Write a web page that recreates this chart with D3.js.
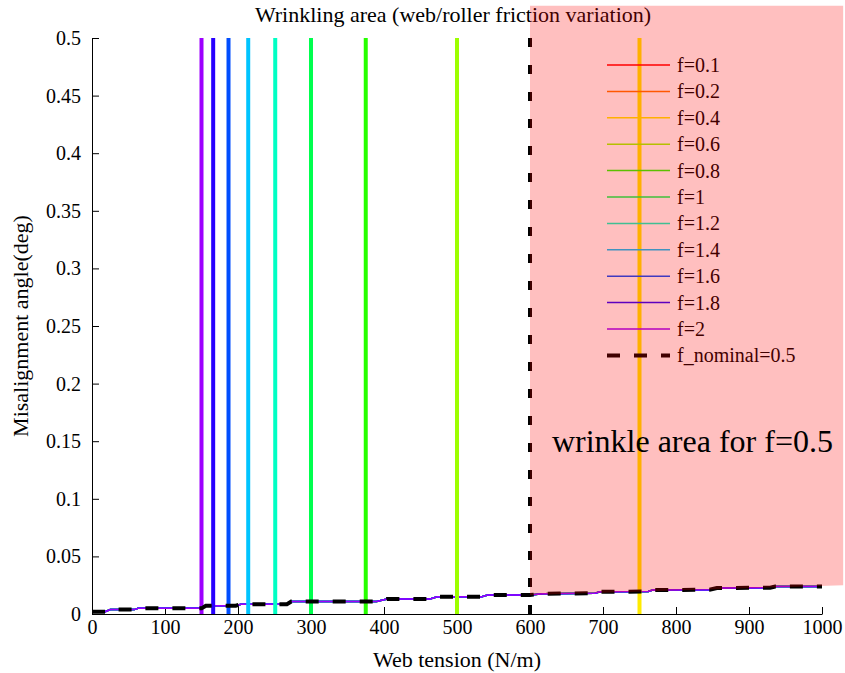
<!DOCTYPE html>
<html>
<head>
<meta charset="utf-8">
<title>Wrinkling area</title>
<style>
    body { margin: 0; background: #fff; }
    svg { display: block; font-family: "Liberation Serif", "Times New Roman", serif; }
    .axis path, .axis line { stroke: #000; stroke-width: 1px; }
</style>
<script src="https://d3js.org/d3.v7.min.js"></script>
</head>
<body>
<div id="chart"></div>
<script>
// friction cases (legend order)
const frictions = ['0.1', '0.2', '0.4', '0.6', '0.8', '1', '1.2', '1.4', '1.6', '1.8', '2'];
// wrinkling limit tension for each friction (off-chart for the two smallest)
const limitTension = [null, null, 750, 500, 375, 300, 251, 214, 187, 166, 150];
const nominalLimit = 600;

// misalignment curve (same for every friction case)
const curveTension = [0, 18, 25, 58, 63, 150, 156, 197, 204, 267, 273, 390, 404, 463, 473, 534, 542, 600, 618, 689, 696, 762, 768, 846, 856, 929, 936, 1000];
const curveAngle = [0.002, 0.002, 0.0038, 0.0038, 0.0049, 0.0049, 0.0072, 0.0072, 0.0085, 0.0085, 0.0108, 0.0108, 0.013, 0.013, 0.015, 0.015, 0.0165, 0.0165, 0.0176, 0.018, 0.0193, 0.0195, 0.0208, 0.021, 0.0226, 0.0228, 0.0238, 0.0238];

// wrinkle zone patch for f=0.5
const zoneTension = [600, 600, 1029, 1029];
const zoneAngle = [0.0165, 0.528, 0.528, 0.025];

const xTicks = [0, 100, 200, 300, 400, 500, 600, 700, 800, 900, 1000];
const yTicks = [0, 0.05, 0.1, 0.15, 0.2, 0.25, 0.3, 0.35, 0.4, 0.45, 0.5];

const width = 845, height = 673;
const margin = { top: 38, right: 23, bottom: 59, left: 92 };
const serif = '"Liberation Serif", "Times New Roman", serif';

const x = d3.scaleLinear().domain([0, 1000]).range([margin.left, width - margin.right]);
const y = d3.scaleLinear().domain([0, 0.5]).range([height - margin.bottom, margin.top]);

// hsv-like colour map, 13 steps, first 11 used
const color = i => d3.hsl(i * 360 / 13, 1, 0.5).formatHex();

const svg = d3.select('#chart').append('svg')
    .attr('width', width)
    .attr('height', height);

const xAxis = svg.append('g')
    .attr('class', 'axis')
    .attr('transform', `translate(0,${y(0)})`)
    .call(d3.axisBottom(x).tickValues(xTicks).tickSizeInner(-7).tickSizeOuter(0).tickPadding(6)
        .tickFormat(d3.format('d')));

const yAxis = svg.append('g')
    .attr('class', 'axis')
    .attr('transform', `translate(${x(0)},0)`)
    .call(d3.axisLeft(y).tickValues(yTicks).tickSizeInner(-7).tickSizeOuter(0).tickPadding(11)
        .tickFormat(d => String(+d.toFixed(2))));

[xAxis, yAxis].forEach(g => {
    g.attr('font-family', serif).attr('font-size', 20);
    g.selectAll('text').attr('fill', '#000');
});

const curvePts = curveTension.map((t, i) => [t, curveAngle[i]]);
const line = d3.line().x(d => x(d[0])).y(d => y(d[1]));

// thin curves, one per friction
svg.append('g').selectAll('path')
    .data(frictions)
    .join('path')
    .attr('d', line(curvePts))
    .attr('fill', 'none')
    .attr('stroke', (_, i) => color(i))
    .attr('stroke-width', 1.5);

// wrinkling limits
svg.append('g').selectAll('line')
    .data(limitTension.map((t, i) => ({ t, i })).filter(d => d.t !== null))
    .join('line')
    .attr('x1', d => x(d.t)).attr('x2', d => x(d.t))
    .attr('y1', y(0)).attr('y2', y(0.5))
    .attr('stroke', d => color(d.i))
    .attr('stroke-width', 4);

// nominal friction
svg.append('path')
    .attr('d', line(curvePts))
    .attr('fill', 'none')
    .attr('stroke', '#000')
    .attr('stroke-width', 4)
    .attr('stroke-dasharray', '13,14');

svg.append('line')
    .attr('x1', x(nominalLimit)).attr('x2', x(nominalLimit))
    .attr('y1', y(0)).attr('y2', y(0.5))
    .attr('stroke', '#000')
    .attr('stroke-width', 4)
    .attr('stroke-dasharray', '9,18');

// legend
const legend = svg.append('g').attr('transform', 'translate(607,65)');
const legendItems = frictions.map((f, i) => ({ label: 'f=' + f, col: color(i), w: 1.5, dash: null }))
    .concat([{ label: 'f_nominal=0.5', col: '#000', w: 4, dash: '13,14' }]);
const row = legend.selectAll('g')
    .data(legendItems)
    .join('g')
    .attr('transform', (_, i) => `translate(0,${i * 26.4})`);
row.append('line')
    .attr('x1', 0).attr('x2', 63)
    .attr('stroke', d => d.col)
    .attr('stroke-width', d => d.w)
    .attr('stroke-dasharray', d => d.dash);
row.append('text')
    .attr('x', 70)
    .attr('dy', '0.35em')
    .style('font-size', '20px')
    .text(d => d.label);

// title and axis labels
svg.append('text')
    .attr('x', (x(0) + x(1000)) / 2 - 4)
    .attr('y', 22)
    .attr('text-anchor', 'middle')
    .style('font-size', '22px')
    .text('Wrinkling area (web/roller friction variation)');

svg.append('text')
    .attr('x', (x(0) + x(1000)) / 2)
    .attr('y', 667)
    .attr('text-anchor', 'middle')
    .style('font-size', '22px')
    .text('Web tension (N/m)');

svg.append('text')
    .attr('transform', `translate(28,${(y(0) + y(0.5)) / 2}) rotate(-90)`)
    .attr('text-anchor', 'middle')
    .style('font-size', '22px')
    .text('Misalignment angle(deg)');

// translucent wrinkle zone on top
svg.append('path')
    .attr('d', line(zoneTension.map((t, i) => [t, zoneAngle[i]])) + 'Z')
    .attr('fill', 'rgba(255,0,0,0.25)')
    .attr('stroke', 'none');

svg.append('text')
    .attr('x', x(630))
    .attr('y', y(0.15))
    .attr('dy', '0.35em')
    .style('font-size', '32px')
    .text('wrinkle area for f=0.5');
</script>
</body>
</html>
